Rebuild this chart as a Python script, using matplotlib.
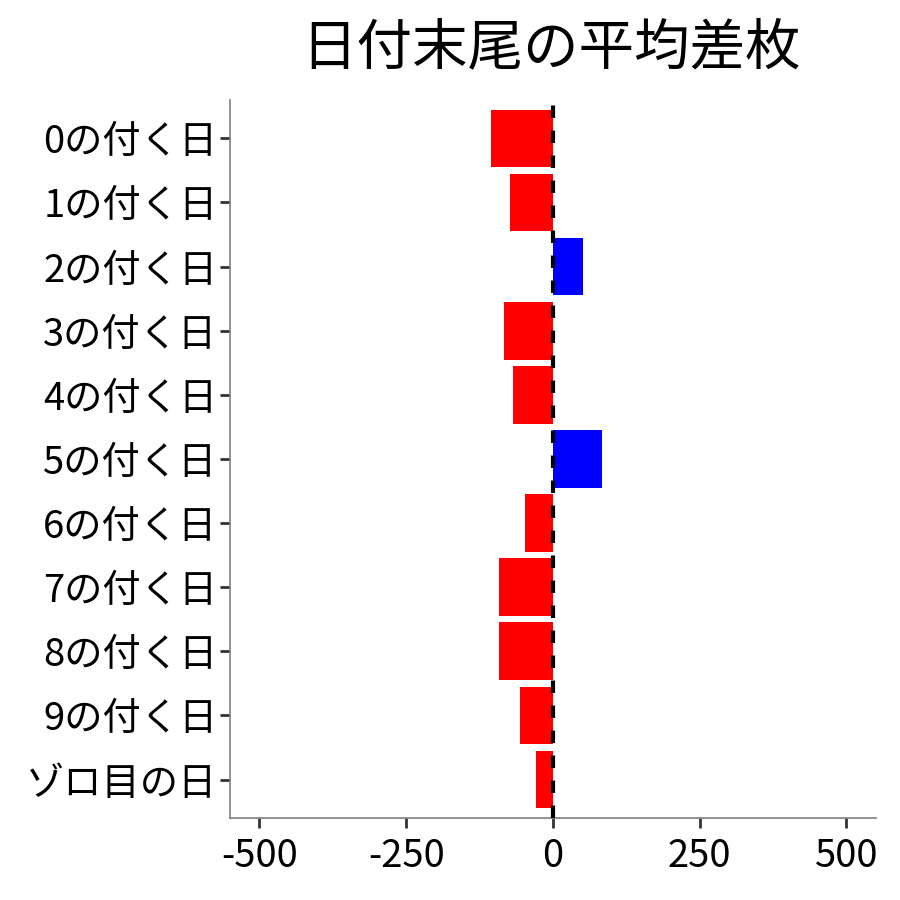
import numpy as np
import matplotlib
matplotlib.use("Agg")
import matplotlib.pyplot as plt

plt.rcParams['font.family'] = ['Noto Sans CJK JP', 'DejaVu Sans']

# ---------------------------------------------------------
# Data
# ---------------------------------------------------------
categories = ["0の付く日", "1の付く日", "2の付く日", "3の付く日", "4の付く日",
              "5の付く日", "6の付く日", "7の付く日", "8の付く日", "9の付く日",
              "ゾロ目の日"]
avg_diff = [-106, -73, 51, -84, -68, 84, -47, -91, -91, -56, -29]
x_ticks = [-500, -250, 0, 250, 500]

# ---------------------------------------------------------
# Plot
# ---------------------------------------------------------
fig = plt.figure(figsize=(9, 9), dpi=100)
ax = fig.add_axes([0.2556, 0.0911, 0.7174, 0.7979])

y = np.arange(len(categories))
colors = ["blue" if v > 0 else "red" for v in avg_diff]
ax.barh(y, avg_diff, height=0.9, color=colors, zorder=2)
ax.axvline(0, color="black", linestyle=(0, (3, 3)), linewidth=3, zorder=3)

ax.set_xlim(-550, 550)
ax.set_ylim(len(categories) - 0.4, -0.6)
ax.set_yticks(y)
ax.set_yticklabels(categories)
ax.set_xticks(x_ticks)
ax.set_xticklabels([str(t) for t in x_ticks])

ax.tick_params(axis="both", labelsize=27.5, colors="#333333", length=7, width=2,
               labelcolor="black")
ax.tick_params(axis="y", pad=2)
ax.tick_params(axis="x", pad=7)

for side in ["top", "right"]:
    ax.spines[side].set_visible(False)
for side in ["left", "bottom"]:
    ax.spines[side].set_color("#7f7f7f")
    ax.spines[side].set_linewidth(1.2)

fig.text(0.612, 0.946, "日付末尾の平均差枚", ha="center", va="center", fontsize=40)

plt.savefig("out.png", dpi=100)
